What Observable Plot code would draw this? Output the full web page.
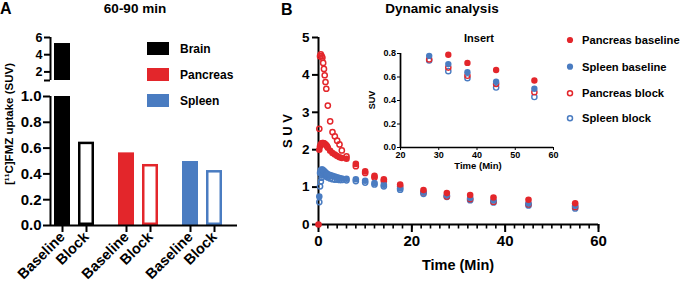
<!DOCTYPE html>
<html><head><meta charset="utf-8">
<script src="https://cdn.jsdelivr.net/npm/d3@7"></script>
<script src="https://cdn.jsdelivr.net/npm/@observablehq/plot@0.6"></script>
<style>
html,body{margin:0;padding:0;background:#fff;}
#chart{position:relative;width:685px;height:286px;overflow:hidden;font-family:"Liberation Sans",Arial,Helvetica,sans-serif;}
#chart svg{position:absolute;left:0;top:0;background:transparent !important;overflow:visible;max-width:none;}
</style></head><body><div id="chart"></div>
<script>
const W = 685, H = 286;
const RED = "#e3262b", BLUE = "#4a7cc1", BLACK = "#000000";

// ---- Panel A data ----
const organs = ["Brain", "Pancreas", "Spleen"];
const conditions = ["Baseline", "Block"];
const uptakeBaseline = [5.3, 0.563, 0.496];
const uptakeBlock = [0.646, 0.473, 0.426];
const organColors = [BLACK, RED, BLUE];
const yTicksLow = [0, 0.2, 0.4, 0.6, 0.8, 1.0];
const yTicksHigh = [1, 2, 4, 6];

// ---- Panel B data ----
const times = [0, 0.17, 0.33, 0.5, 0.67, 0.83, 1, 1.17, 1.33, 1.5, 1.67, 1.83, 2, 2.5, 3, 3.5, 4, 4.5, 5, 6, 8, 10, 12, 14, 17.5, 22.5, 27.5, 32.5, 37.5, 45, 55];
const pancreasBaseline = [0, 2.0, 2.09, 2.14, 2.17, 2.18, 2.18, 2.17, 2.16, 2.14, 2.12, 2.09, 2.05, 1.97, 1.91, 1.87, 1.83, 1.8, 1.78, 1.76, 1.62, 1.42, 1.30, 1.21, 1.07, 0.92, 0.84, 0.79, 0.72, 0.66, 0.57];
const spleenBaseline = [null, 0.75, 1.38, 1.45, 1.47, 1.47, 1.45, 1.43, 1.41, 1.39, 1.37, 1.35, 1.34, 1.32, 1.30, 1.28, 1.26, 1.24, 1.23, 1.22, 1.21, 1.17, 1.11, 1.06, 0.97, 0.86, 0.78, 0.71, 0.64, 0.56, 0.50];
const pancreasBlock = [null, 2.56, 4.5, 4.55, 4.5, 4.46, 4.32, 4.16, 3.99, 3.81, 3.63, null, 3.18, 2.76, 2.47, 2.36, 2.24, 2.14, 1.98, 1.82, 1.56, 1.38, 1.26, 1.16, 1.02, 0.86, 0.75, 0.68, 0.61, 0.54, 0.47];
const spleenBlock = [null, 0.6, 1.02, 1.15, 1.25, 1.32, 1.35, 1.36, 1.35, 1.33, 1.3, 1.28, 1.26, 1.23, 1.21, 1.2, 1.2, 1.19, 1.19, 1.18, 1.16, 1.12, 1.07, 1.02, 0.93, 0.82, 0.74, 0.65, 0.59, 0.51, 0.43];
const seriesNames = ["Pancreas baseline", "Spleen baseline", "Pancreas block", "Spleen block"];
const seriesColors = [RED, BLUE, RED, BLUE];
const seriesOpen = [false, false, true, true];
const xTicksMain = [0, 20, 40, 60];
const yTicksMain = [0, 1, 2, 3, 4, 5];
const xTicksInset = [20, 30, 40, 50, 60];
const yTicksInset = [0, 0.2, 0.4, 0.6, 0.8];

const chart = document.getElementById("chart");
const FONT = '"Liberation Sans", Arial, Helvetica, sans-serif';
let z = 1;
function st(extra = {}) {
  return Object.assign({background: "transparent", position: "absolute", left: "0px", top: "0px",
    overflow: "visible", fontFamily: FONT, color: "#000"}, extra);
}
function add(p) { p.style.zIndex = String(z++); chart.appendChild(p); return p; }

// ---------- Panel A ----------
const bars = organs.flatMap((organ, i) => [
  {organ, condition: "Baseline", value: uptakeBaseline[i]},
  {organ, condition: "Block", value: uptakeBlock[i]}
]);
const fxOpts = {domain: organs, paddingInner: 0.382, paddingOuter: 0.136, align: 0.227, axis: null, label: null};
const xBand = {domain: conditions, paddingInner: 1 / 3, paddingOuter: 0, axis: null, label: null};
const colorA = {domain: organs, range: organColors};
const A_LEFT = 50, A_RIGHT = 237;

// lower segment (0–1): values above the break are clamped to the segment top
add(Plot.plot({
  width: W, height: H, marginLeft: A_LEFT, marginRight: W - A_RIGHT, marginTop: 96, marginBottom: H - 225,
  style: st(), fx: fxOpts, x: xBand, y: {domain: [0, 1], clamp: true, axis: null}, color: colorA,
  marks: [
    Plot.barY(bars.filter(d => d.condition === "Baseline"), {fx: "organ", x: "condition", y: "value", fill: "organ"}),
    Plot.barY(bars.filter(d => d.condition === "Block"), {fx: "organ", x: "condition", y: "value", fill: "white", stroke: "organ", strokeWidth: 2.5, inset: 1.25}),
    Plot.axisX({tickRotate: -45, tickSize: 7, tickPadding: 2, strokeWidth: 2, fontSize: 14.5, fontWeight: "bold", label: null})
  ]
}));
// upper segment (1–6): only bars that reach above the break
add(Plot.plot({
  width: W, height: H, marginLeft: A_LEFT, marginRight: W - A_RIGHT, marginTop: 37, marginBottom: H - 80,
  style: st(), fx: fxOpts, x: xBand, y: {domain: [1, 6], clamp: true, axis: null}, color: colorA,
  marks: [
    Plot.barY(bars.filter(d => d.value > 1), {fx: "organ", x: "condition", y: "value", fill: "organ"})
  ]
}));
add(Plot.plot({
  width: W, height: H, marginLeft: A_LEFT, marginRight: W - A_RIGHT, marginTop: 96, marginBottom: H - 225,
  style: st(), x: {domain: [0, 1], axis: null}, y: {domain: [0, 1], axis: null},
  marks: [
    Plot.ruleX([0], {y1: 0, y2: 1, strokeWidth: 2}),
    Plot.ruleY([0], {x1: 0, x2: 1, strokeWidth: 2}),
    Plot.axisY({ticks: yTicksLow, tickFormat: d3.format(".1f"), tickSize: 7, tickPadding: 2, strokeWidth: 2, fontSize: 15, fontWeight: "bold", label: null})
  ]
}));
add(Plot.plot({
  width: W, height: H, marginLeft: A_LEFT, marginRight: W - A_RIGHT, marginTop: 37, marginBottom: H - 80,
  style: st(), x: {domain: [0, 1], axis: null}, y: {domain: [1, 6], axis: null},
  marks: [
    Plot.ruleX([0], {y1: 1, y2: 6, strokeWidth: 2}),
    Plot.axisY({ticks: yTicksHigh, tickFormat: d => d === 1 ? "" : String(d), tickSize: 6, tickPadding: 2, strokeWidth: 2, fontSize: 12.5, fontWeight: "bold", label: null})
  ]
}));

// ---------- Panel B ----------
const seriesValues = [pancreasBaseline, spleenBaseline, pancreasBlock, spleenBlock];
const kinetics = seriesNames.flatMap((name, k) => times.map((t, i) => ({series: name, t, suv: seriesValues[k][i]})));
const drawOrder = [3, 2, 1, 0];
function dots(rows, rFilled, rOpen, sw) {
  return drawOrder.map(k => Plot.dot(rows.filter(d => d.series === seriesNames[k]), {
    x: "t", y: "suv",
    r: seriesOpen[k] ? rOpen : rFilled,
    fill: seriesOpen[k] ? "none" : seriesColors[k],
    stroke: seriesOpen[k] ? seriesColors[k] : "none",
    strokeWidth: sw
  }));
}
add(Plot.plot({
  width: W, height: H, marginLeft: 318, marginRight: W - 598, marginTop: 37, marginBottom: H - 224,
  style: st(), x: {domain: [0, 60], axis: null}, y: {domain: [0, 5], axis: null},
  marks: [
    Plot.ruleX([0], {y1: 0, y2: 5, strokeWidth: 2}),
    Plot.ruleY([0], {x1: 0, x2: 60, strokeWidth: 2}),
    Plot.axisY({ticks: yTicksMain, tickFormat: d => String(d), tickSize: 6, tickPadding: 3, strokeWidth: 2, fontSize: 13.5, fontWeight: "bold", label: null}),
    Plot.axisX({ticks: d3.range(0, 61, 2), tickSize: 4.5, strokeWidth: 1.6, tickFormat: () => "", label: null}),
    Plot.axisX({ticks: xTicksMain, tickFormat: d => String(d), tickSize: 8, tickPadding: 3, strokeWidth: 2, fontSize: 15, fontWeight: "bold", label: null}),
    ...dots(kinetics, 3.3, 2.6, 1.5)
  ]
}));
// inset: only the points inside its axis window (the reference hides the rest)
const insetRows = kinetics.filter(d => d.suv != null && d.t >= 20 && d.suv <= 0.8);
add(Plot.plot({
  width: W, height: H, marginLeft: 400, marginRight: W - 553, marginTop: 53, marginBottom: H - 147,
  style: st({fontSize: "9px", fontWeight: "bold"}),
  x: {domain: [20, 60], ticks: xTicksInset, tickFormat: d => String(d), tickSize: 3, tickPadding: 1.5, label: null, axis: "bottom"},
  y: {domain: [0, 0.8], axis: null},
  marks: [
    Plot.ruleX([20], {y1: 0, y2: 0.8, strokeWidth: 1.4}),
    Plot.ruleY([0], {x1: 20, x2: 60, strokeWidth: 1.4}),
    ...dots(insetRows, 3.2, 2.6, 1.4)
  ]
}));

// ---------- Text & legends ----------
const ov = d3.select(chart).append("svg").attr("width", W).attr("height", H)
  .style("font-family", FONT).style("z-index", String(z++));
function txt(x, y, s, size, opt = {}) {
  const t = ov.append("text").attr("font-size", size).attr("font-weight", opt.weight || "bold")
    .attr("text-anchor", opt.anchor || "middle").attr("fill", "#000").text(s);
  if (opt.rotate) {
    t.attr("transform", `translate(${x},${y}) rotate(-90)`).attr("dominant-baseline", "central");
  } else {
    t.attr("x", x).attr("y", y);
    if (opt.central) t.attr("dominant-baseline", "central");
  }
  return t;
}
txt(0, 14, "A", 16, {anchor: "start"});
txt(135, 13, "60-90 min", 13.5);
txt(9, 124, "[¹¹C]FMZ uptake (SUV)", 11.5, {rotate: true});
organs.forEach((o, i) => {
  const cy = 48.5 + i * 26;
  ov.append("rect").attr("x", 147).attr("y", cy - 6.5).attr("width", 22).attr("height", 13).attr("fill", organColors[i]);
  txt(180, cy, o, 12, {anchor: "start", central: true});
});
txt(281, 15, "B", 16, {anchor: "start"});
txt(442, 13, "Dynamic analysis", 13.5);
txt(287, 131, "S U V", 13, {rotate: true});
txt(458, 270, "Time (Min)", 14.5);
txt(479, 42, "Insert", 11);
txt(372, 100, "SUV", 9, {rotate: true});
txt(478, 169, "Time (Min)", 9.5);
const legY = [40, 66.7, 93.3, 118.3];
seriesNames.forEach((n, k) => {
  ov.append("circle").attr("cx", 570).attr("cy", legY[k]).attr("r", seriesOpen[k] ? 2.5 : 3.1)
    .attr("fill", seriesOpen[k] ? "none" : seriesColors[k])
    .attr("stroke", seriesOpen[k] ? seriesColors[k] : "none").attr("stroke-width", 1.5);
  txt(582, legY[k], n, 11.2, {anchor: "start", central: true});
});

// inset y axis in its own top-most layer
add(Plot.plot({
  width: W, height: H, marginLeft: 400, marginRight: W - 553, marginTop: 53, marginBottom: H - 147,
  style: st({fontSize: "9px", fontWeight: "bold"}),
  x: {domain: [20, 60], axis: null},
  y: {domain: [0, 0.8], ticks: yTicksInset, tickFormat: d3.format(".1f"), tickSize: 3, tickPadding: 1.5, label: null, axis: "left"},
  marks: [Plot.ruleX([20], {y1: 0, y2: 0.8, strokeWidth: 1.4})]
}));
</script></body></html>
